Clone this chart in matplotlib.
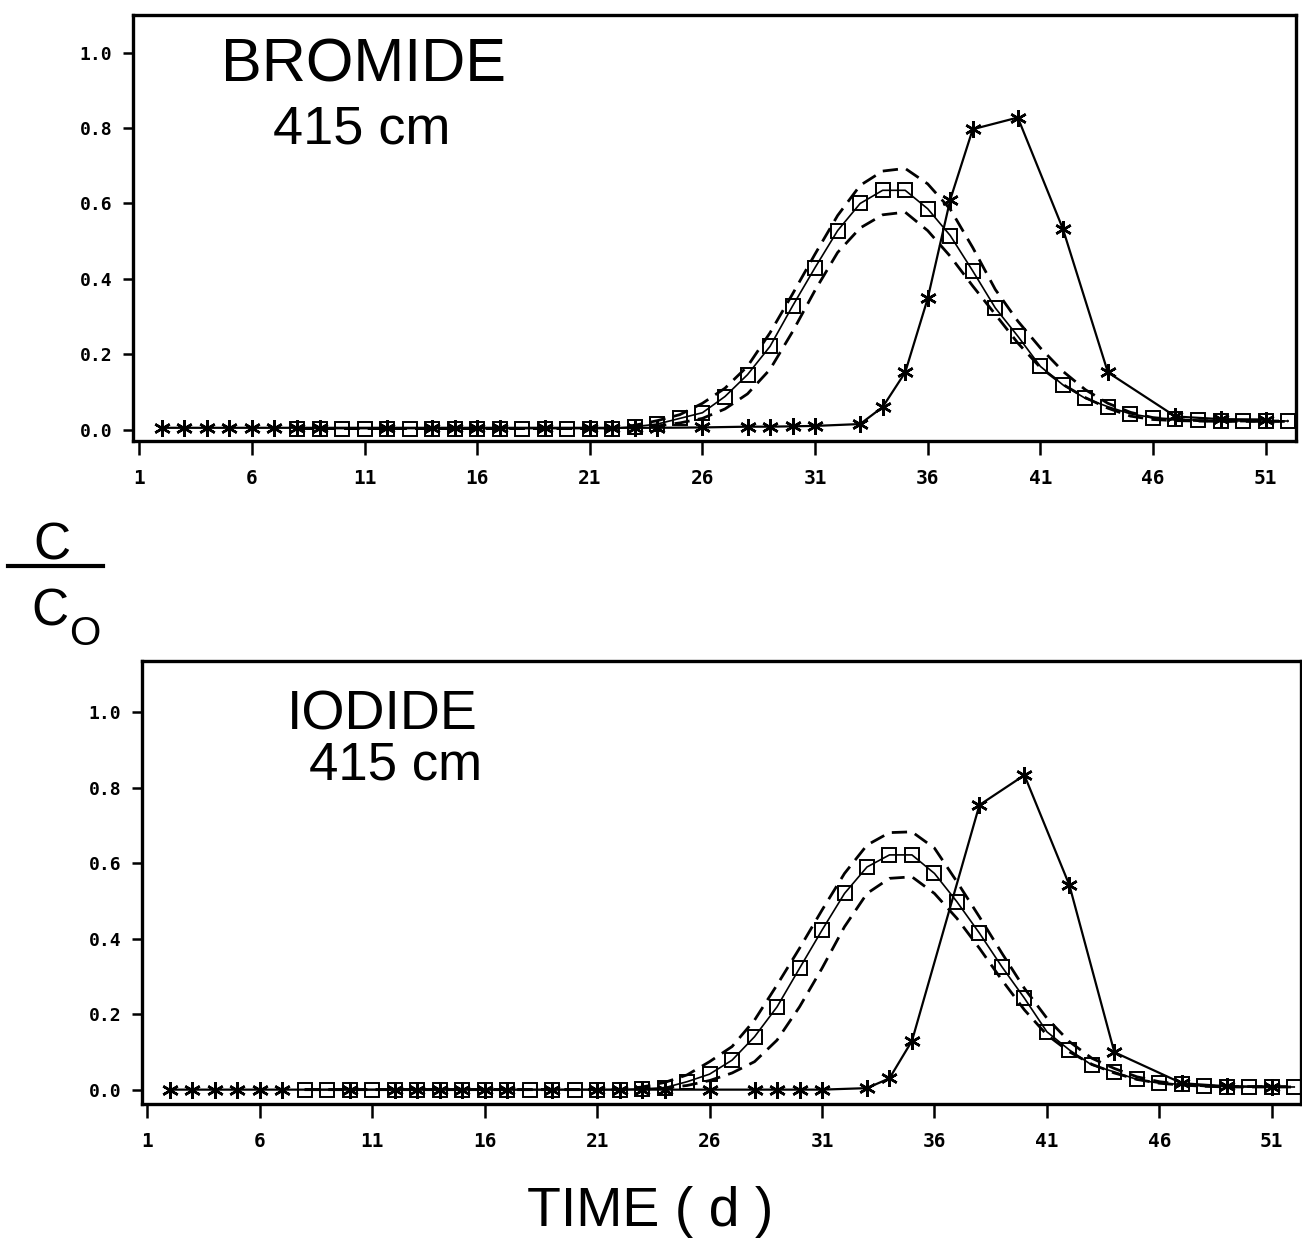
import numpy as np
import matplotlib.pyplot as plt
from matplotlib.lines import Line2D

W, H = 1302, 1241

# ---- data (C/Co versus time in days) ----
model_days = list(range(8, 53))

# bromide, 415 cm
br_model = [0.003] * 15 + [0.008, 0.015, 0.03, 0.045, 0.088, 0.146, 0.221, 0.328, 0.43, 0.528,
                           0.60, 0.635, 0.635, 0.586, 0.515, 0.421, 0.323, 0.248, 0.168, 0.119,
                           0.083, 0.061, 0.042, 0.032, 0.028, 0.025, 0.024, 0.023, 0.023, 0.023]
br_upper = [0.003] * 15 + [0.012, 0.024, 0.04, 0.07, 0.11, 0.168, 0.257, 0.36, 0.466, 0.568,
                           0.648, 0.686, 0.693, 0.652, 0.585, 0.483, 0.372, 0.288, 0.217, 0.155,
                           0.106, 0.07, 0.046, 0.032, 0.027, 0.024, 0.023, 0.023, 0.023, 0.023]
br_lower = [0.003] * 15 + [0.005, 0.01, 0.018, 0.03, 0.055, 0.095, 0.16, 0.26, 0.37, 0.47,
                           0.535, 0.57, 0.577, 0.528, 0.46, 0.381, 0.306, 0.23, 0.165, 0.12,
                           0.085, 0.057, 0.036, 0.027, 0.024, 0.023, 0.022, 0.022, 0.022, 0.022]
br_obs_days = [2, 3, 4, 5, 6, 7, 8, 9, 12, 14, 15, 16, 17, 19, 21, 22, 23, 24,
               26, 28, 29, 30, 31, 33, 34, 35, 36, 37, 38, 40, 42, 44, 47, 49, 51]
br_obs = [0.005] * 18 + [0.006, 0.008, 0.008, 0.009, 0.01, 0.015, 0.06, 0.152, 0.348,
                         0.61, 0.797, 0.828, 0.533, 0.152, 0.035, 0.028, 0.027]

# iodide, 415 cm
io_model = [0.001] * 15 + [0.003, 0.006, 0.022, 0.042, 0.079, 0.141, 0.22, 0.322, 0.423, 0.52,
                           0.59, 0.622, 0.622, 0.573, 0.498, 0.415, 0.326, 0.243, 0.154, 0.106,
                           0.066, 0.048, 0.028, 0.018, 0.015, 0.01, 0.009, 0.008, 0.008, 0.008]
io_upper = [0.001] * 15 + [0.008, 0.02, 0.04, 0.075, 0.115, 0.185, 0.278, 0.375, 0.476, 0.573,
                           0.648, 0.681, 0.683, 0.64, 0.551, 0.458, 0.362, 0.269, 0.19, 0.128,
                           0.084, 0.057, 0.035, 0.022, 0.015, 0.011, 0.009, 0.009, 0.009, 0.009]
io_lower = [0.001] * 15 + [0.002, 0.005, 0.012, 0.025, 0.045, 0.075, 0.132, 0.22, 0.322, 0.432,
                           0.52, 0.56, 0.564, 0.52, 0.454, 0.375, 0.291, 0.212, 0.146, 0.101,
                           0.068, 0.045, 0.028, 0.018, 0.013, 0.01, 0.008, 0.008, 0.008, 0.008]
io_obs_days = [2, 3, 4, 5, 6, 7, 10, 12, 13, 14, 15, 16, 17, 19, 21, 22, 23, 24,
               26, 28, 29, 30, 31, 33, 34, 35, 38, 40, 42, 44, 47, 49, 51]
io_obs = [0.001] * 23 + [0.005, 0.031, 0.13, 0.754, 0.833, 0.542, 0.1, 0.018, 0.01, 0.009]

xticks = list(range(1, 52, 5))
yticks = [0.0, 0.2, 0.4, 0.6, 0.8, 1.0]

star = (6, 2, 0)
tickfont = dict(family='DejaVu Sans Mono', weight='bold')

fig = plt.figure(figsize=(W / 100, H / 100), dpi=100)


def px(x, y):
    return x / W, 1 - y / H


def panel(rect, xlim, ylim, model, upper, lower, obs_days, obs):
    ax = fig.add_axes(rect)
    ax.plot(model_days, upper, color='black', lw=2.0, ls=(0, (5.5, 3)))
    ax.plot(model_days, lower, color='black', lw=2.0, ls=(0, (5.5, 3)))
    ax.plot(model_days, model, color='black', lw=1.2, marker='s', ms=9.5,
            mfc='none', mec='black', mew=1.4)
    ax.plot(obs_days, obs, color='black', lw=1.6, marker=star, ms=12, mew=1.8, zorder=5)
    ax.set_xlim(*xlim)
    ax.set_ylim(*ylim)
    ax.set_xticks(xticks)
    ax.set_yticks(yticks)
    ax.set_yticklabels(['%.1f' % v for v in yticks], fontsize=13, **tickfont)
    ax.set_xticklabels([str(v) for v in xticks], fontsize=14, **tickfont)
    ax.tick_params(axis='y', direction='out', length=7, width=1.8, pad=8)
    ax.tick_params(axis='x', direction='out', length=10, width=1.8, pad=10)
    for s in ax.spines.values():
        s.set_linewidth(2.4)
    return ax


ax1 = panel([133 / W, 1 - 441 / H, 1163 / W, 426 / H], (0.72, 52.35), (-0.03, 1.10),
            br_model, br_upper, br_lower, br_obs_days, br_obs)
ax2 = panel([142 / W, 1 - 1104 / H, 1159 / W, 443 / H], (0.76, 52.3), (-0.037, 1.135),
            io_model, io_upper, io_lower, io_obs_days, io_obs)

# panel titles
fig.text(*px(363, 82), 'BROMIDE', fontsize=44, ha='center', va='baseline',
         family='Liberation Sans')
fig.text(*px(362, 144), '415 cm', fontsize=39, ha='center', va='baseline',
         family='Liberation Sans')
fig.text(*px(382, 730), 'IODIDE', fontsize=40, ha='center', va='baseline',
         family='Liberation Sans')
fig.text(*px(396, 780), '415 cm', fontsize=38, ha='center', va='baseline',
         family='Liberation Sans')

# C / Co label
fig.text(*px(52, 560), 'C', fontsize=37, ha='center', va='baseline', family='Liberation Sans')
fig.add_artist(Line2D([8 / W, 103 / W], [1 - 566 / H, 1 - 566 / H], color='black', lw=3,
                      transform=fig.transFigure))
fig.text(*px(50, 625), 'C', fontsize=37, ha='center', va='baseline', family='Liberation Sans')
fig.text(*px(85, 645), 'O', fontsize=29, ha='center', va='baseline', family='Liberation Sans')

fig.text(*px(650, 1226), 'TIME ( d )', fontsize=40, ha='center', va='baseline',
         family='Liberation Sans')

fig.savefig('out.png', dpi=100)
